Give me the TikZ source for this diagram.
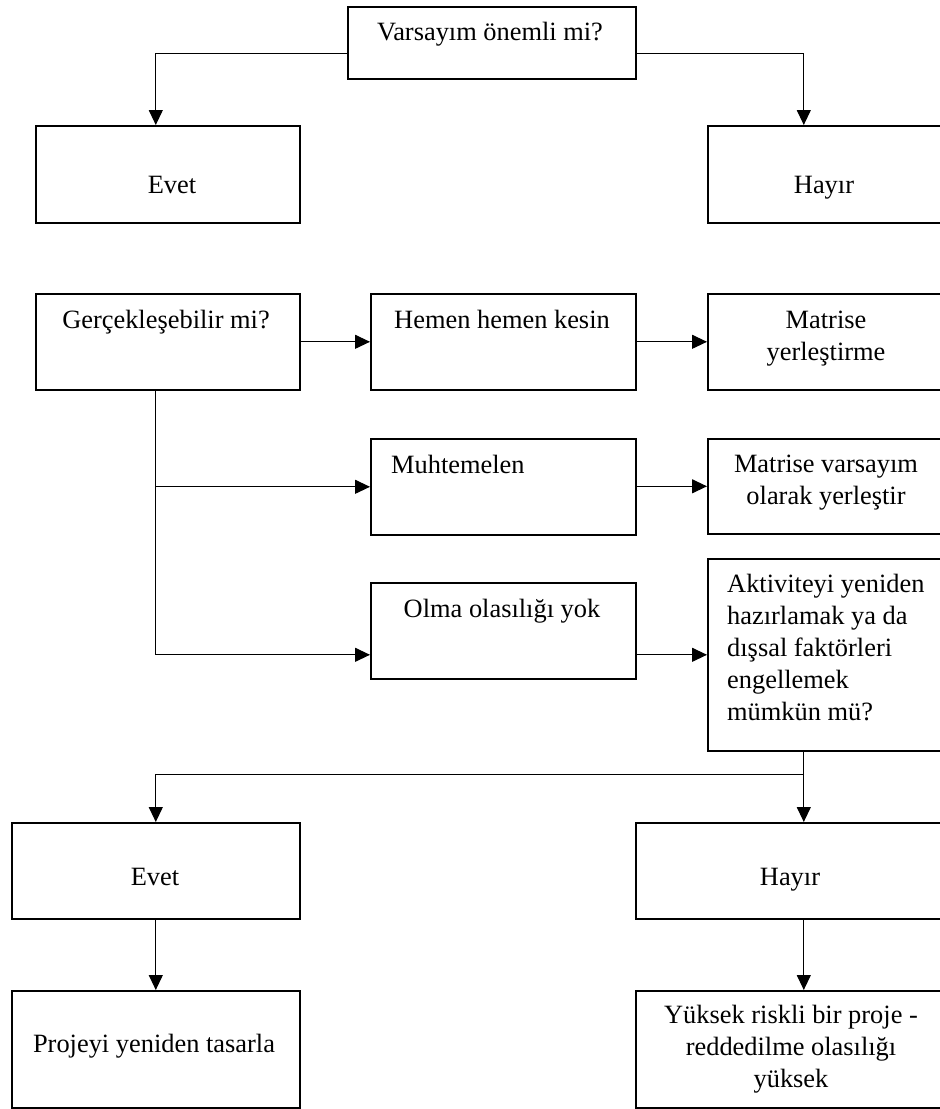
\documentclass[tikz,border=0pt]{standalone}
\usepackage{fontspec}
\setmainfont{Liberation Serif}
\usetikzlibrary{arrows.meta}

\begin{document}
\begin{tikzpicture}[x=1pt, y=-1pt,
  box/.style={draw, line width=1.6pt, inner sep=0pt, anchor=north west},
  lbl/.style={font=\fontsize{26.4}{32}\selectfont, inner sep=0pt, anchor=base},
  arr/.style={line width=1.2pt, -{Triangle[length=15pt, width=14pt]}},
  ln/.style={line width=1.2pt}]

\useasboundingbox (0,0) rectangle (940,1109);

% boxes
\node[box, minimum width=288, minimum height=72] (q1) at (347,6) {};
\node[box, minimum width=264, minimum height=97] (evetA) at (35,125) {};
\node[box, minimum width=234, minimum height=97] (hayirA) at (707,125) {};
\node[box, minimum width=264, minimum height=96] (gercek) at (35,293) {};
\node[box, minimum width=265, minimum height=96] (kesin) at (370,293) {};
\node[box, minimum width=234, minimum height=96] (matris) at (707,293) {};
\node[box, minimum width=265, minimum height=96] (muhtemel) at (370,438) {};
\node[box, minimum width=234, minimum height=95] (varsay) at (707,438) {};
\node[box, minimum width=265, minimum height=96] (olma) at (370,582) {};
\node[box, minimum width=234, minimum height=192] (aktivite) at (707,558) {};
\node[box, minimum width=288, minimum height=96] (evetB) at (11,822) {};
\node[box, minimum width=306, minimum height=96] (hayirB) at (635,822) {};
\node[box, minimum width=288, minimum height=117] (proje) at (11,990) {};
\node[box, minimum width=306, minimum height=117] (yuksek) at (635,990) {};

% texts
\node[lbl] (q1t) at (490,40) {Varsayım önemli mi?};
\node[lbl] (evetAt) at (172,193) {Evet};
\node[lbl] (hayirAt) at (824,193) {Hayır};
\node[lbl] (gercekt) at (166,328) {Gerçekleşebilir mi?};
\node[lbl] (kesint) at (502,328) {Hemen hemen kesin};
\node[lbl, text width=220, align=flush center] (matrist) at (826,328) {Matrise\\ yerleştirme};
\node[lbl, anchor=base west] (muhtemelt) at (391,473) {Muhtemelen};
\node[lbl, text width=220, align=flush center] (varsayt) at (826,472) {Matrise varsayım\\ olarak yerleştir};
\node[lbl] (olmat) at (502,617) {Olma olasılığı yok};
\node[lbl, text width=210, align=flush left, anchor=base west] (aktivitet) at (727,592)
  {Aktiviteyi yeniden\\ hazırlamak ya da\\ dışsal faktörleri\\ engellemek\\ mümkün mü?};
\node[lbl] (evetBt) at (155,885) {Evet};
\node[lbl] (hayirBt) at (790,885) {Hayır};
\node[lbl] (projet) at (154,1052) {Projeyi yeniden tasarla};
\node[lbl, text width=290, align=flush center] (yuksekt) at (791,1023)
  {Yüksek riskli bir proje -\\ reddedilme olasılığı\\ yüksek};

% connectors
\draw[arr] ([yshift=-11pt]q1.west) -| ([xshift=-12pt]evetA.north);
\draw[arr] ([yshift=-11pt]q1.east) -| ([xshift=-21pt]hayirA.north);
\draw[arr] (gercek) -- (kesin);
\draw[arr] (kesin) -- (matris);
\draw[arr] ([xshift=-12pt]gercek.south) |- (muhtemel.west);
\draw[arr] ([xshift=-12pt]gercek.south) |- (olma.west |- aktivite.west);
\draw[arr] (muhtemel.east |- varsay.west) -- (varsay.west);
\draw[arr] (olma.east |- aktivite.west) -- (aktivite.west);
\coordinate (split) at ([xshift=-21pt, yshift=-23pt]aktivite.south);
\draw[ln] ([xshift=-21pt]aktivite.south) -- (split);
\draw[arr] (split) -| (evetB.north);
\draw[arr] (split) -- (split |- hayirB.north);
\draw[arr] (evetB) -- (proje);
\draw[arr] ([xshift=15pt]hayirB.south) -- ([xshift=15pt]yuksek.north);
\end{tikzpicture}
\end{document}
